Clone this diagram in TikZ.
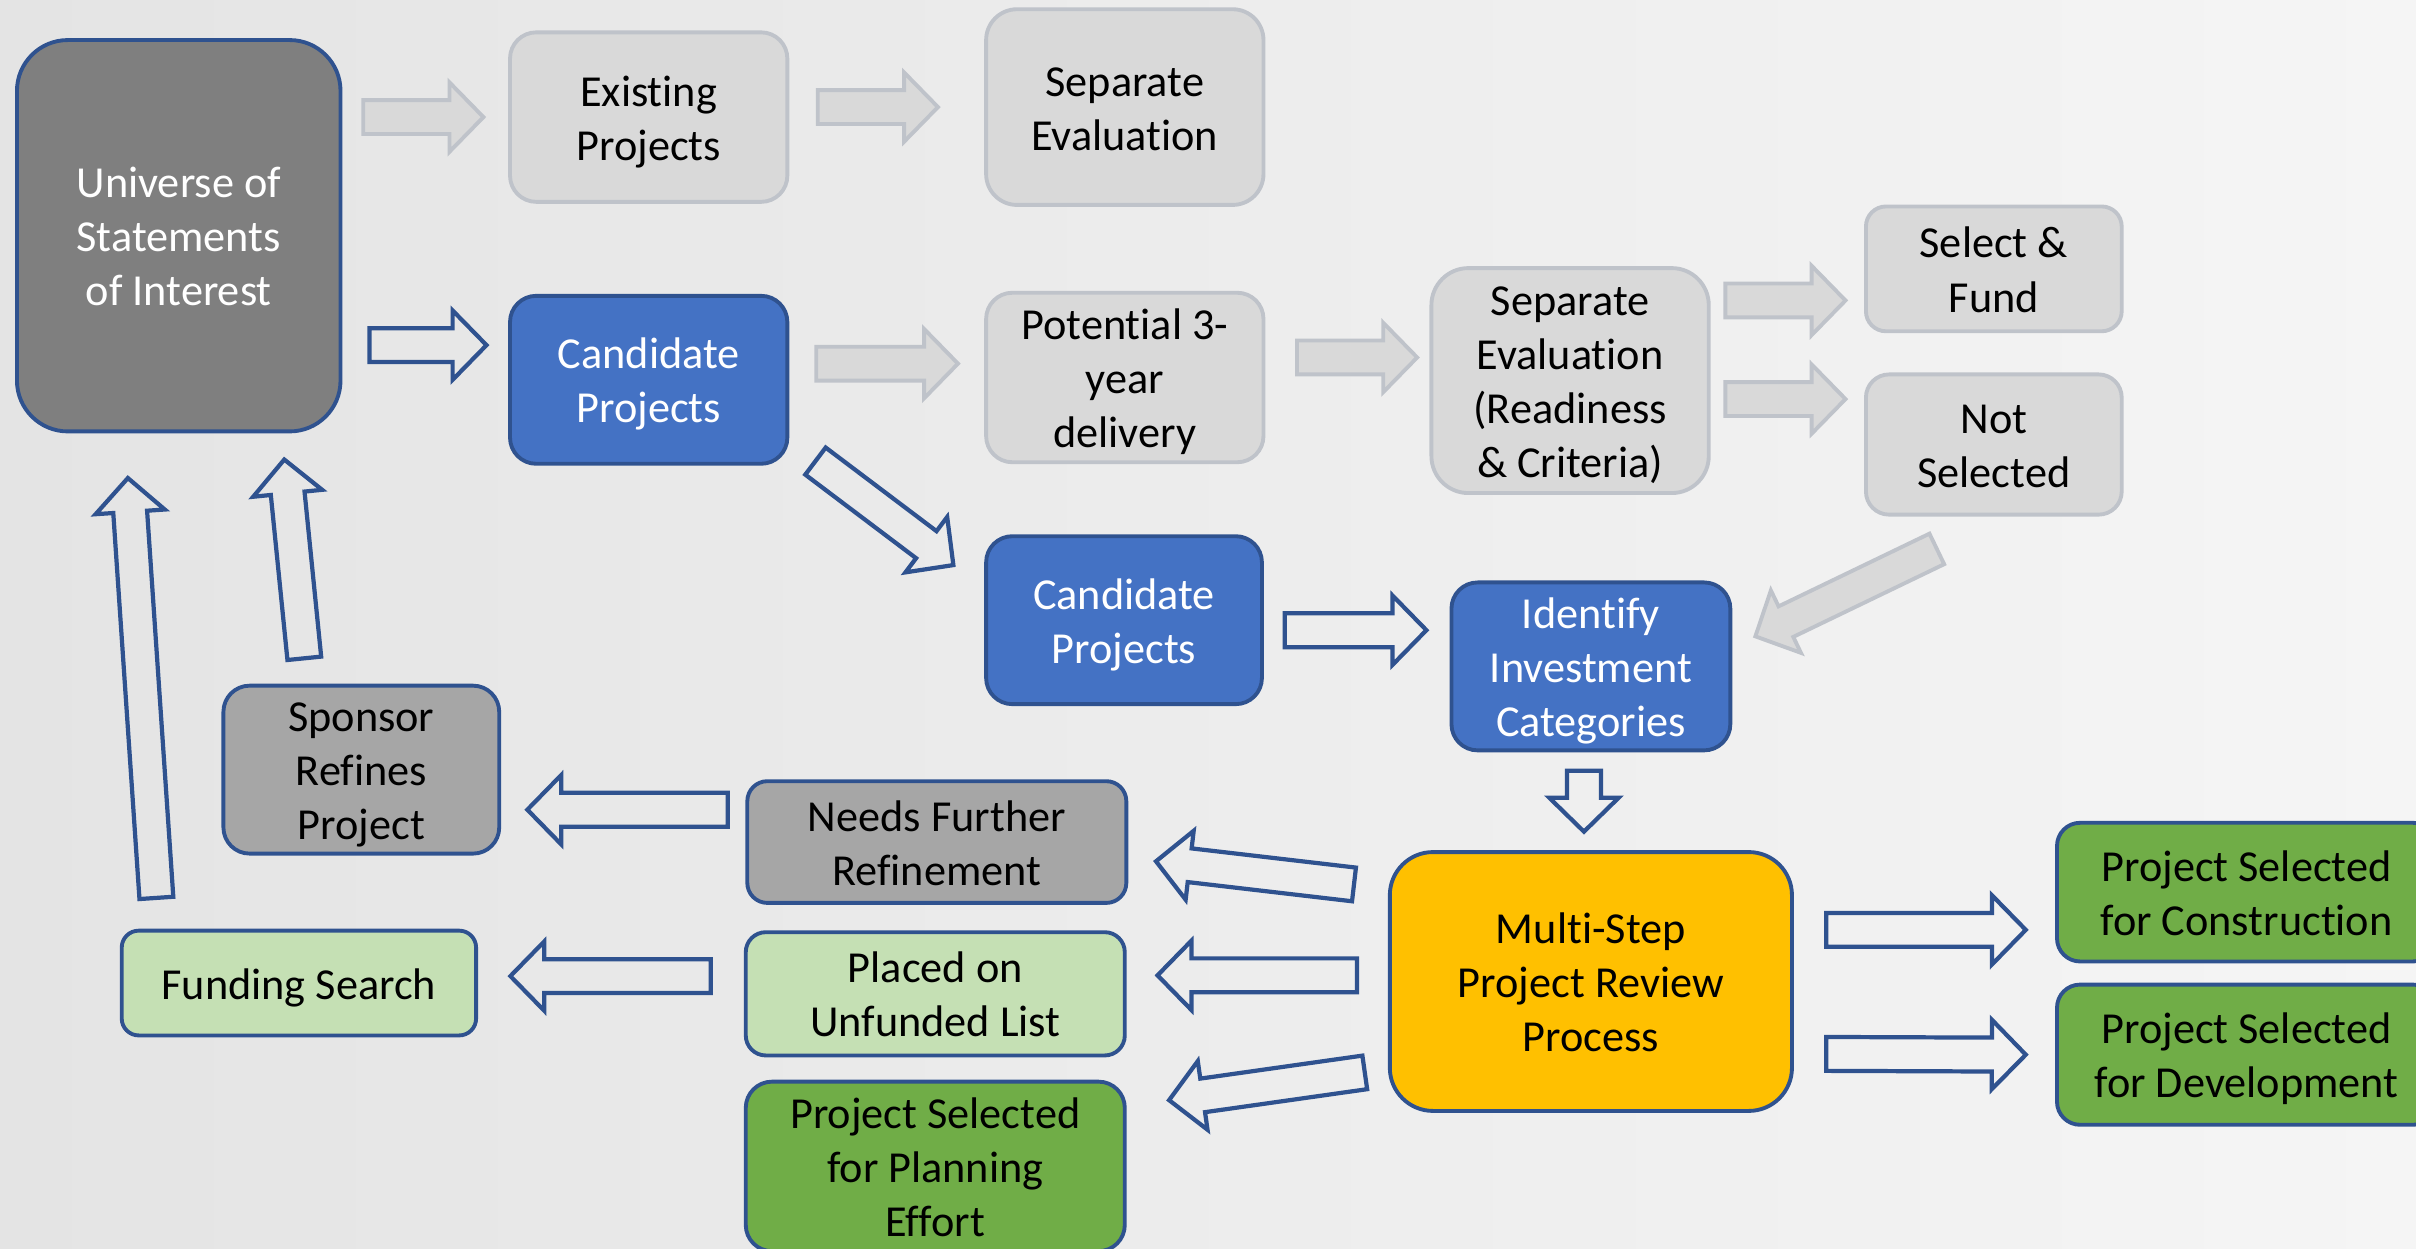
\documentclass[tikz,border=0pt]{standalone}
\usepackage{fontspec}
\setmainfont{Carlito}[Ligatures=NoCommon]
\usetikzlibrary{calc}
\definecolor{bgl}{HTML}{E4E4E4}
\definecolor{bgr}{HTML}{F5F5F5}
\definecolor{edgeblue}{HTML}{2F528F}
\definecolor{fillblue}{HTML}{4472C4}
\definecolor{darkfill}{HTML}{7F7F7F}
\definecolor{midfill}{HTML}{A6A6A6}
\definecolor{lightfill}{HTML}{D9D9D9}
\definecolor{lightedge}{HTML}{BFC3CA}
\definecolor{goldfill}{HTML}{FFC000}
\definecolor{greenfill}{HTML}{70AD47}
\definecolor{palefill}{HTML}{C5E0B4}
\newcommand\pxu{0.01541cm}
% centred lines, nudged down a little
\newcommand\lbl[1]{\raisebox{-1.5pt}[\height][\depth]{\begin{tabular}{@{}c@{}}#1\end{tabular}}}
\tikzset{
    box/.style={draw=edgeblue, line width=1.1pt, inner sep=0pt,
        font=\fontsize{12.6}{15.4}\selectfont, rounded corners=#1*\pxu},
    box/.default=17,
    darkbox/.style={box=#1, fill=darkfill, text=white},
    bluebox/.style={box=#1, fill=fillblue, text=white},
    midbox/.style={box=#1, fill=midfill},
    lightbox/.style={box=#1, fill=lightfill, draw=lightedge},
    goldbox/.style={box=#1, fill=goldfill},
    greenbox/.style={box=#1, fill=greenfill},
    palebox/.style={box=#1, fill=palefill},
    darkbox/.default=17, bluebox/.default=17, midbox/.default=17,
    lightbox/.default=17, goldbox/.default=17, greenbox/.default=17,
    palebox/.default=17,
    grayarrow/.style={fill=lightfill, draw=lightedge, line width=1.1pt, line join=miter},
    bluearrow/.style={draw=edgeblue, line width=1.2pt, line join=miter},
}
% block arrow from tail #2 to tip #3
\newcommand\blockarrow[3]{%
    \path (#2) coordinate (ba-s) (#3) coordinate (ba-t);
    \coordinate (ba-h) at ($(ba-t)!22*\pxu!(ba-s)$);
    \draw[#1] ($(ba-s)!11*\pxu!90:(ba-t)$) -- ($(ba-h)!11*\pxu!90:(ba-t)$)
        -- ($(ba-h)!22.5*\pxu!90:(ba-t)$) -- (ba-t)
        -- ($(ba-h)!22.5*\pxu!-90:(ba-t)$) -- ($(ba-h)!11*\pxu!-90:(ba-t)$)
        -- ($(ba-s)!11*\pxu!-90:(ba-t)$) -- cycle;}
\begin{document}
\begin{tikzpicture}[x=\pxu, y=-\pxu]
    \useasboundingbox (0, 0) rectangle (1568, 810);
    \clip (0, 0) rectangle (1568, 810);
    \shade[left color=bgl, right color=bgr] (0, 0) rectangle (1568, 810);

    \node[darkbox=33, minimum width=210*\pxu, minimum height=254*\pxu] (univ) at (116, 153) {\lbl{Universe of\\Statements\\of Interest}};
    \node[lightbox, minimum width=180*\pxu, minimum height=110*\pxu] (exist) at (421, 76) {\lbl{Existing\\Projects}};
    \node[lightbox=20, minimum width=180*\pxu, minimum height=127*\pxu] (sepev) at (730, 69.5) {\lbl{Separate\\Evaluation}};
    \node[bluebox, minimum width=180*\pxu, minimum height=109*\pxu] (cand1) at (421, 246.5) {\lbl{Candidate\\Projects}};
    \node[lightbox, minimum width=180*\pxu, minimum height=110*\pxu] (pot) at (730, 245) {\lbl{Potential 3-\\year\\delivery}};
    \node[lightbox=24, minimum width=180*\pxu, minimum height=146*\pxu] (sepev2) at (1019, 247) {\lbl{Separate\\Evaluation\\(Readiness\\\& Criteria)}};
    \node[lightbox=13, minimum width=166*\pxu, minimum height=81*\pxu] (selfund) at (1294, 174.5) {\lbl{Select \&\\Fund}};
    \node[lightbox=15, minimum width=166*\pxu, minimum height=91*\pxu] (notsel) at (1294, 288.5) {\lbl{Not\\Selected}};
    \node[bluebox, minimum width=179*\pxu, minimum height=109*\pxu] (cand2) at (729.5, 402.5) {\lbl{Candidate\\Projects}};
    \node[bluebox, minimum width=181*\pxu, minimum height=109*\pxu] (ident) at (1032.5, 432.5) {\lbl{Identify\\Investment\\Categories}};
    \node[midbox, minimum width=179*\pxu, minimum height=109*\pxu] (sponsor) at (234.5, 499.5) {\lbl{Sponsor\\Refines\\Project}};
    \node[midbox=13, minimum width=246*\pxu, minimum height=79*\pxu] (needs) at (608, 546.5) {\lbl{Needs Further\\Refinement}};
    \node[goldbox=28, minimum width=261*\pxu, minimum height=168*\pxu] (multi) at (1032.5, 637) {\lbl{Multi-Step\\Project Review\\Process}};
    \node[greenbox=15, minimum width=246*\pxu, minimum height=90*\pxu] (constr) at (1458, 579) {\lbl{Project Selected\\for Construction}};
    \node[greenbox=15, minimum width=246*\pxu, minimum height=91*\pxu] (devel) at (1458, 684.5) {\lbl{Project Selected\\for Development}};
    \node[palebox=11, minimum width=230*\pxu, minimum height=68*\pxu] (fund) at (194, 638) {\lbl{Funding Search}};
    \node[palebox=13, minimum width=246*\pxu, minimum height=80*\pxu] (placed) at (607, 645) {\lbl{Placed on\\Unfunded List}};
    \node[greenbox, minimum width=246*\pxu, minimum height=110*\pxu] (plan) at (607, 757) {\lbl{Project Selected\\for Planning\\Effort}};

    \blockarrow{grayarrow}{$(exist.west)+(-94, 0)$}{$(exist.west)+(-16, 0)$}
    \blockarrow{grayarrow}{$(sepev.west)+(-108, 0)$}{$(sepev.west)+(-30, 0)$}
    \blockarrow{bluearrow}{$(cand1.west)+(-90, -22.5)$}{$(cand1.west)+(-14, -22.5)$}
    \blockarrow{grayarrow}{$(pot.west)+(-109, -9)$}{$(pot.west)+(-17, -9)$}
    \blockarrow{grayarrow}{$(sepev2.west)+(-86, -15)$}{$(sepev2.west)+(-8, -15)$}
    \blockarrow{grayarrow}{$(selfund.west)+(-90, 20.5)$}{$(selfund.west)+(-12, 20.5)$}
    \blockarrow{grayarrow}{$(notsel.west)+(-90, -29.5)$}{$(notsel.west)+(-12, -29.5)$}
    \blockarrow{bluearrow}{$(cand1.south east)+(17, -3)$}{$(cand2.north west)+(-20, 20)$}
    \blockarrow{bluearrow}{$(ident.west)+(-107, -23.5)$}{$(ident.west)+(-15, -23.5)$}
    \blockarrow{grayarrow}{$(notsel.south)+(-37, 21)$}{$(ident.east)+(15, -19.5)$}
    \blockarrow{bluearrow}{$(ident.south)+(-4.5, 12)$}{$(multi.north)+(-4.5, -12)$}
    \blockarrow{bluearrow}{$(multi.west)+(-22, -63)$}{$(needs.east)+(18, 12.5)$}
    \blockarrow{bluearrow}{$(multi.west)+(-20, -4)$}{$(placed.east)+(20, -12)$}
    \blockarrow{bluearrow}{$(multi.west)+(-15, 59)$}{$(plan.east)+(27.5, -43)$}
    \blockarrow{bluearrow}{$(needs.west)+(-11.5, -21)$}{$(sponsor.east)+(17, 26)$}
    \blockarrow{bluearrow}{$(placed.west)+(-21.5, -11.5)$}{$(fund.east)+(21, -4.5)$}
    \blockarrow{bluearrow}{$(sponsor.north)+(-37, -16.5)$}{$(univ.south)+(68.5, 17)$}
    \blockarrow{bluearrow}{$(fund.north)+(-92.5, -20)$}{$(univ.south)+(-33, 29)$}
    \blockarrow{bluearrow}{$(multi.east)+(21, -33.5)$}{$(constr.west)+(-19, 24.5)$}
    \blockarrow{bluearrow}{$(multi.east)+(21, 47)$}{$(devel.west)+(-19, 0)$}
\end{tikzpicture}
\end{document}
